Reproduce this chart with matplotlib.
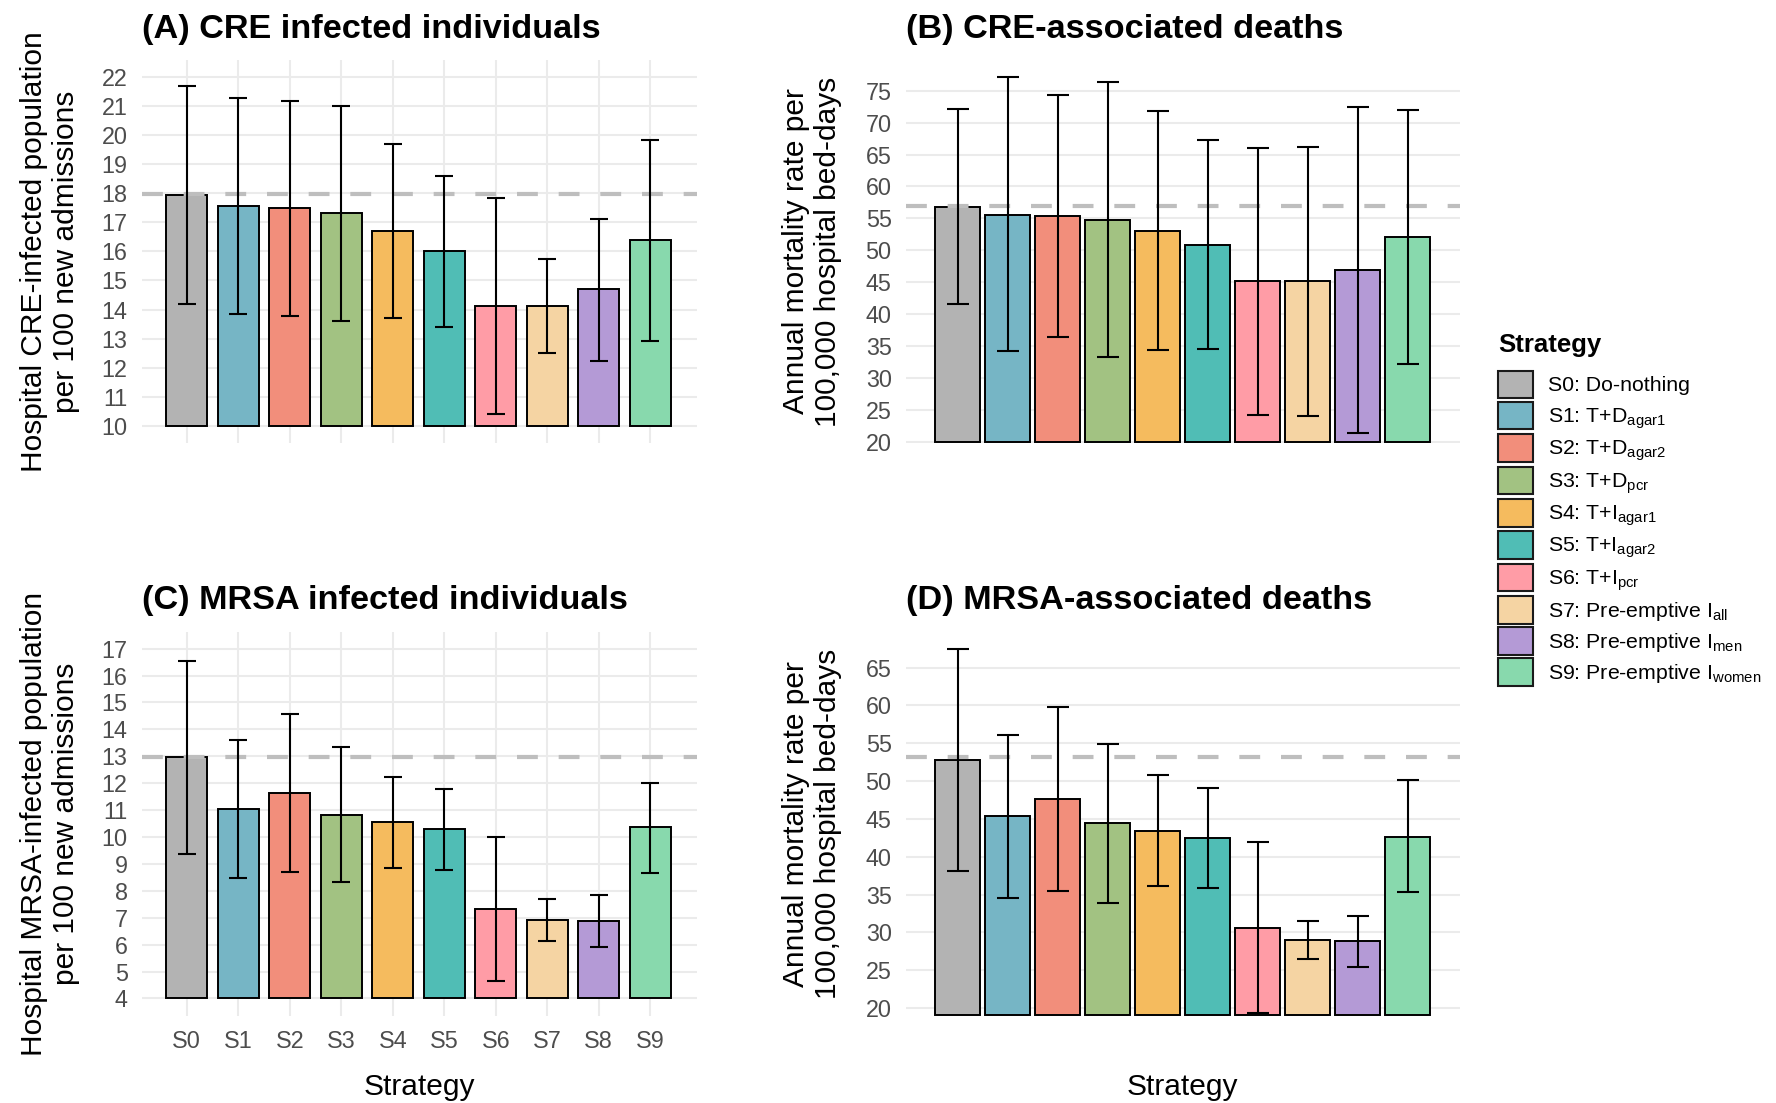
import matplotlib
matplotlib.use("Agg")
import matplotlib.pyplot as plt
from matplotlib.patches import Patch
import numpy as np

plt.rcParams['font.family'] = ['Liberation Sans', 'DejaVu Sans']
plt.rcParams['mathtext.fontset'] = 'custom'
plt.rcParams['mathtext.rm'] = 'Liberation Sans'
plt.rcParams['mathtext.it'] = 'Liberation Sans:italic'
plt.rcParams['mathtext.bf'] = 'Liberation Sans:bold'

# ---- data -----------------------------------------------------------------
strategies = ["S0", "S1", "S2", "S3", "S4", "S5", "S6", "S7", "S8", "S9"]
legend_labels = [
    "S0: Do-nothing",
    "S1: T+D$_\\mathregular{agar1}$",
    "S2: T+D$_\\mathregular{agar2}$",
    "S3: T+D$_\\mathregular{pcr}$",
    "S4: T+I$_\\mathregular{agar1}$",
    "S5: T+I$_\\mathregular{agar2}$",
    "S6: T+I$_\\mathregular{pcr}$",
    "S7: Pre-emptive I$_\\mathregular{all}$",
    "S8: Pre-emptive I$_\\mathregular{men}$",
    "S9: Pre-emptive I$_\\mathregular{women}$",
]
colors = ["#B3B3B3", "#76B5C5", "#F28E7B", "#A2C282", "#F5BB5E",
          "#50BDB5", "#FF9CA6", "#F5D4A3", "#B49AD6", "#88D9AD"]

# (A) CRE infected individuals per 100 new admissions
cre_inf_mean = [17.94, 17.57, 17.48, 17.31, 16.71, 16.01, 14.12, 14.12, 14.70, 16.39]
cre_inf_low = [14.19, 13.86, 13.78, 13.62, 13.70, 13.41, 10.40, 12.50, 12.24, 12.93]
cre_inf_high = [21.67, 21.26, 21.18, 21.00, 19.70, 18.60, 17.82, 15.74, 17.12, 19.82]
cre_inf_ref = 17.97

# (B) CRE-associated deaths per 100,000 bed-days
cre_death_mean = [56.81, 55.61, 55.35, 54.83, 53.11, 50.92, 45.13, 45.13, 46.90, 52.12]
cre_death_low = [41.53, 34.18, 36.42, 33.24, 34.39, 34.55, 24.22, 24.07, 21.36, 32.25]
cre_death_high = [72.14, 77.20, 74.28, 76.41, 71.83, 67.29, 66.09, 66.25, 72.45, 72.03]
cre_death_ref = 56.90

# (C) MRSA infected individuals per 100 new admissions
mrsa_inf_mean = [12.96, 11.04, 11.65, 10.83, 10.54, 10.28, 7.32, 6.93, 6.88, 10.36]
mrsa_inf_low = [9.37, 8.48, 8.71, 8.31, 8.85, 8.79, 4.64, 6.15, 5.90, 8.67]
mrsa_inf_high = [16.55, 13.59, 14.57, 13.33, 12.22, 11.77, 10.01, 7.71, 7.86, 12.02]
mrsa_inf_ref = 12.98

# (D) MRSA-associated deaths per 100,000 bed-days
mrsa_death_mean = [52.78, 45.32, 47.66, 44.40, 43.44, 42.44, 30.62, 28.97, 28.79, 42.66]
mrsa_death_low = [38.09, 34.51, 35.48, 33.83, 36.07, 35.84, 19.31, 26.41, 25.45, 35.38]
mrsa_death_high = [67.48, 56.13, 59.79, 54.94, 50.81, 49.08, 41.93, 31.54, 32.18, 50.08]
mrsa_death_ref = 53.15

# ---- figure ---------------------------------------------------------------
W, H = 1776, 1103
fig = plt.figure(figsize=(W / 100, H / 100), dpi=100)
fig.patch.set_facecolor("white")

GRID = "#EBEBEB"
TICK = "#4D4D4D"


def axes_px(x0, x1, y0, y1):
    return fig.add_axes([x0 / W, 1 - y1 / H, (x1 - x0) / W, (y1 - y0) / H])


panels = [
    dict(box=(141.5, 696.5, 60, 443), title="(A) CRE infected individuals",
         ylabel="Hospital CRE-infected population\nper 100 new admissions",
         mean=cre_inf_mean, low=cre_inf_low, high=cre_inf_high, ref=cre_inf_ref,
         base=10, ylim=(9.416, 22.574), yticks=np.arange(10, 23, 1),
         xlim=(-0.88, 9.90), width=0.8, vgrid=True, xlabels=False, cap=6.6,
         ylab_x=50, title_pad=16.0),
    dict(box=(905.6, 1460, 60, 443), title="(B) CRE-associated deaths",
         ylabel="Annual mortality rate per\n100,000 hospital bed-days",
         mean=cre_death_mean, low=cre_death_low, high=cre_death_high, ref=cre_death_ref,
         base=20, ylim=(19.85, 79.80), yticks=np.arange(20, 76, 5),
         xlim=(-1.04, 10.04), width=0.9, vgrid=False, xlabels=False, cap=7.8,
         ylab_x=812, title_pad=16.0),
    dict(box=(141.5, 696.5, 632, 1015.7), title="(C) MRSA infected individuals",
         ylabel="Hospital MRSA-infected population\nper 100 new admissions",
         mean=mrsa_inf_mean, low=mrsa_inf_low, high=mrsa_inf_high, ref=mrsa_inf_ref,
         base=4, ylim=(3.357, 17.62), yticks=np.arange(4, 18, 1),
         xlim=(-0.88, 9.90), width=0.8, vgrid=True, xlabels=True, cap=6.6,
         ylab_x=50, title_pad=16.5),
    dict(box=(905.6, 1460, 632, 1015.7), title="(D) MRSA-associated deaths",
         ylabel="Annual mortality rate per\n100,000 hospital bed-days",
         mean=mrsa_death_mean, low=mrsa_death_low, high=mrsa_death_high, ref=mrsa_death_ref,
         base=19.0, ylim=(18.97, 69.72), yticks=np.arange(20, 66, 5),
         xlim=(-1.04, 10.04), width=0.9, vgrid=False, xlabels=False, cap=7.8,
         ylab_x=812, title_pad=16.5),
]

x = np.arange(len(strategies))

for p in panels:
    x0, x1, y0, y1 = p["box"]
    ax = axes_px(x0, x1, y0, y1)
    mean = np.array(p["mean"])
    low = np.array(p["low"])
    high = np.array(p["high"])

    ax.bar(x, mean - p["base"], bottom=p["base"], width=p["width"], color=colors,
           edgecolor="black", linewidth=1.4, zorder=2)
    ax.axhline(p["ref"], color="#BEBEBE", lw=3.0, dashes=(5, 5), zorder=3)
    ax.errorbar(x, mean, yerr=[mean - low, high - mean], fmt="none", ecolor="black",
                elinewidth=1.5, capsize=p["cap"], capthick=1.5, zorder=4)

    ax.set_xlim(*p["xlim"])
    ax.set_ylim(*p["ylim"])
    ax.set_yticks(p["yticks"])
    ax.set_xticks(x)
    ax.set_xticklabels(strategies if p["xlabels"] else [""] * len(x))
    ax.tick_params(axis="both", length=0, labelsize=16.8, labelcolor=TICK, pad=10.0)

    for s in ax.spines.values():
        s.set_visible(False)
    ax.set_axisbelow(True)
    ax.grid(axis="y", color=GRID, lw=1.5)
    if p["vgrid"]:
        ax.grid(axis="x", color=GRID, lw=1.5)

    ax.set_title(p["title"], loc="left", fontsize=24.7, fontweight="bold", pad=p["title_pad"])

    fig.text(p["ylab_x"] / W, 1 - (y0 + y1) / 2 / H, p["ylabel"], rotation=90,
             ha="center", va="center", multialignment="center", fontsize=21.5)

# shared x-axis titles under the bottom row
for cx in [(141.5 + 696.5) / 2, (905.6 + 1460) / 2]:
    fig.text(cx / W, 1 - 1095 / H, "Strategy", ha="center", va="baseline", fontsize=21.5)

# legend
handles = [Patch(facecolor=c, edgecolor="#1A1A1A", linewidth=1.5) for c in colors]
fig.legend(handles, legend_labels, loc="upper left",
           bbox_to_anchor=(1498.3 / W, 1 - 370.7 / H), frameon=False, fontsize=15.3,
           handlelength=1.62, handleheight=1.62, handletextpad=0.70,
           labelspacing=0.16, borderpad=0, borderaxespad=0)
fig.text(1498 / W, 1 - 351.7 / H, "Strategy", fontweight="bold", fontsize=18.5,
         va="baseline", ha="left")

fig.savefig("out.png", dpi=100, facecolor="white")
